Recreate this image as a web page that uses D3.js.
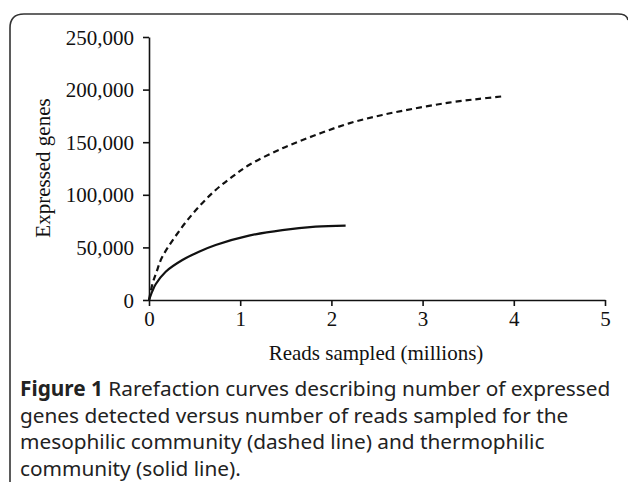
<!DOCTYPE html>
<html>
<head>
<meta charset="utf-8">
<script src="https://cdn.jsdelivr.net/npm/d3@7"></script>
<style>
  body { margin: 0; background: #fff; }
  svg { display: block; }
</style>
</head>
<body>
<svg width="628" height="482"></svg>
<script>
// reads sampled (millions) and expressed genes
var mesoX = [0, 0.04, 0.08, 0.146, 0.366, 0.548, 0.731, 0.914, 1.096, 1.462, 1.827, 2.193, 2.558, 2.924, 3.289, 3.6, 3.87];
var mesoY = [0, 16000, 26000, 41000, 69700, 88700, 104600, 117200, 128300, 144200, 156800, 167900, 175900, 182200, 187600, 191000, 193500];
var thermoX = [0, 0.037, 0.073, 0.183, 0.366, 0.548, 0.731, 1.096, 1.462, 1.827, 2.156];
var thermoY = [0, 8500, 15000, 26900, 38000, 45900, 52300, 61200, 66500, 69700, 70700];
var xTicks = [0, 1, 2, 3, 4, 5];
var yTicks = [0, 50000, 100000, 150000, 200000, 250000];
var captionBold = "Figure 1";
var captionLines = [
    " Rarefaction curves describing number of expressed",
    "genes detected versus number of reads sampled for the",
    "mesophilic community (dashed line) and thermophilic",
    "community (solid line)."
];

var svg = d3.select("svg");

// figure frame, only top and left edges visible
svg.append("path")
    .attr("d", "M10,482 L10,28 Q10,14 24,14 L618,14 Q627,14 628,20")
    .attr("fill", "none")
    .attr("stroke", "#333")
    .attr("stroke-width", 1.6);

var x = d3.scaleLinear().domain([0, 5]).range([149, 605]),
    y = d3.scaleLinear().domain([0, 250000]).range([300, 37]);

var gx = svg.append("g")
    .attr("transform", "translate(0,300)")
    .call(d3.axisBottom(x).tickValues(xTicks).tickFormat(d3.format("d")).tickSize(6).tickSizeOuter(0).tickPadding(5));
var gy = svg.append("g")
    .attr("transform", "translate(149,0)")
    .call(d3.axisLeft(y).tickValues(yTicks).tickFormat(d3.format(",")).tickSize(6).tickSizeOuter(0).tickPadding(9));

[gx, gy].forEach(function (g) {
    g.selectAll("path, line").attr("stroke", "#111").attr("stroke-width", 1.6);
    g.selectAll("text")
        .attr("fill", "#111")
        .style("font-family", "'Liberation Serif', 'Times New Roman', serif")
        .style("font-size", "21px");
});
gy.selectAll("text").attr("dy", "0.34em");

svg.append("text")
    .attr("x", 376)
    .attr("y", 360)
    .attr("text-anchor", "middle")
    .style("font-family", "'Liberation Serif', serif")
    .style("font-size", "21px")
    .attr("fill", "#111")
    .text("Reads sampled (millions)");

svg.append("text")
    .attr("transform", "translate(50,168) rotate(-90)")
    .attr("text-anchor", "middle")
    .style("font-family", "'Liberation Serif', serif")
    .style("font-size", "21px")
    .attr("fill", "#111")
    .text("Expressed genes");

var line = d3.line()
    .x(function (d) { return x(d[0]); })
    .y(function (d) { return y(d[1]); })
    .curve(d3.curveCatmullRom.alpha(0.5));

svg.append("path")
    .datum(d3.zip(mesoX, mesoY))
    .attr("fill", "none")
    .attr("stroke", "#111")
    .attr("stroke-width", 2.2)
    .attr("stroke-dasharray", "6,4")
    .attr("d", line);

svg.append("path")
    .datum(d3.zip(thermoX, thermoY))
    .attr("fill", "none")
    .attr("stroke", "#111")
    .attr("stroke-width", 2.2)
    .attr("d", line);

// caption
var cap = svg.append("g")
    .style("font-family", "'Noto Sans', 'Open Sans', sans-serif")
    .style("font-size", "20.8px")
    .attr("fill", "#222");

captionLines.forEach(function (t, i) {
    var tx = cap.append("text")
        .attr("x", 20)
        .attr("y", 396 + i * 26.5);
    if (i === 0) {
        tx.append("tspan").style("font-weight", "bold").text(captionBold);
    }
    tx.append("tspan").text(t);
});
</script>
</body>
</html>
